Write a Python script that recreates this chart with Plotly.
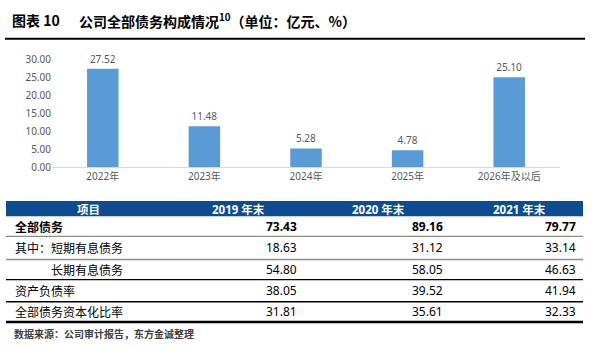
import plotly.graph_objects as go

W, H = 593, 351

# ---- data ----
years = ["2022年", "2023年", "2024年", "2025年", "2026年及以后"]
debt_due = [27.52, 11.48, 5.28, 4.78, 25.10]
y_ticks = [0, 5, 10, 15, 20, 25, 30]

table_header = ["项目", "2019 年末", "2020 年末", "2021 年末"]
row_labels = ["全部债务", "其中：短期有息债务", "长期有息债务", "资产负债率", "全部债务资本化比率"]
col_2019 = [73.43, 18.63, 54.80, 38.05, 31.81]
col_2020 = [89.16, 31.12, 58.05, 39.52, 35.61]
col_2021 = [79.77, 33.14, 46.63, 41.94, 32.33]

title_label = "图表 10"
title_text = "公司全部债务构成情况<sup>10</sup>（单位：亿元、%）"
source_text = "数据来源：公司审计报告，东方金诚整理"

FONT = "Noto Sans, Noto Sans CJK SC, sans-serif"
CJK = "Noto Sans CJK SC, sans-serif"
GRAY = "#595959"


def px(x):
    return x / W


def py(y):
    return 1 - y / H


fig = go.Figure()
fig.add_trace(go.Bar(
    x=years, y=debt_due,
    marker=dict(color="#5B9BD5", line=dict(width=0)),
    text=[f"{v:.2f}" for v in debt_due],
    textposition="outside",
    textfont=dict(size=10, color=GRAY, family=FONT),
    cliponaxis=False,
    width=0.31,
))

fig.update_layout(
    width=W, height=H,
    margin=dict(l=0, r=0, t=0, b=0),
    paper_bgcolor="white", plot_bgcolor="white",
    showlegend=False,
    font=dict(family=FONT, size=10, color=GRAY),
    xaxis=dict(domain=[px(52), px(560)], showline=True, linecolor="#D9D9D9",
               linewidth=1, showgrid=False, ticks="", fixedrange=True,
               tickfont=dict(size=10, color=GRAY, family=FONT)),
    yaxis=dict(domain=[py(167), py(55)], range=[0, 30], tickvals=y_ticks,
               tickformat=".2f", showgrid=False, zeroline=False, showline=False,
               ticks="", tickfont=dict(size=10, color=GRAY, family=FONT)),
)

shapes = []
ann = []

# title
ann.append(dict(x=px(10), y=py(14), xref="paper", yref="paper", xanchor="left",
                yanchor="middle", showarrow=False, text="<b>" + title_label + "</b>",
                font=dict(size=14, color="#000000", family=CJK)))
ann.append(dict(x=px(77), y=py(14), xref="paper", yref="paper", xanchor="left",
                yanchor="middle", showarrow=False, text="<b>" + title_text + "</b>",
                font=dict(size=14, color="#000000", family=CJK)))
shapes.append(dict(type="line", xref="paper", yref="paper", x0=px(5), x1=px(585),
                   y0=py(33), y1=py(33), line=dict(color="#000000", width=2)))

# table header
shapes.append(dict(type="rect", xref="paper", yref="paper", x0=px(6), x1=px(583),
                   y0=py(202), y1=py(218), fillcolor="#0E4C92", line=dict(width=0)))
head_x = [88, 238.5, 378.5, 519.5]
for hx, t in zip(head_x, table_header):
    ann.append(dict(x=px(hx), y=py(210.5), xref="paper", yref="paper", xanchor="center",
                    yanchor="middle", showarrow=False, text="<b>" + t + "</b>",
                    font=dict(size=11.5, color="white", family=FONT)))

row_bottoms = [239, 263, 284, 307, 328]
row_centers = [228.5, 251, 273.5, 295.5, 317.5]
line_cols = ["#8C8C8C", "#8C8C8C", "#000000", "#000000", "#000000"]
line_w = [1.3, 1.3, 1.3, 1.3, 2.5]
for yb, lc, lw in zip(row_bottoms, line_cols, line_w):
    shapes.append(dict(type="line", xref="paper", yref="paper", x0=px(6), x1=px(583),
                       y0=py(yb), y1=py(yb), line=dict(color=lc, width=lw)))

for i, lab in enumerate(row_labels):
    bold = i == 0
    lx = 49 if i == 2 else 13
    ann.append(dict(x=px(lx), y=py(row_centers[i]), xref="paper", yref="paper",
                    xanchor="left", yanchor="middle", showarrow=False,
                    text=("<b>" + lab + "</b>") if bold else lab,
                    font=dict(size=12, color="#000000", family=CJK)))
    for vx, col in zip([299, 445, 578], [col_2019, col_2020, col_2021]):
        s = f"{col[i]:.2f}"
        ann.append(dict(x=px(vx), y=py(row_centers[i]), xref="paper", yref="paper",
                        xanchor="right", yanchor="middle", showarrow=False,
                        text=("<b>" + s + "</b>") if bold else s,
                        font=dict(size=12, color="#000000", family=FONT)))

ann.append(dict(x=px(12), y=py(340), xref="paper", yref="paper", xanchor="left",
                yanchor="middle", showarrow=False, text="<b>" + source_text + "</b>",
                font=dict(size=10, color="#404040", family=CJK)))

fig.update_layout(shapes=shapes, annotations=ann)
fig.write_html("out.html")
